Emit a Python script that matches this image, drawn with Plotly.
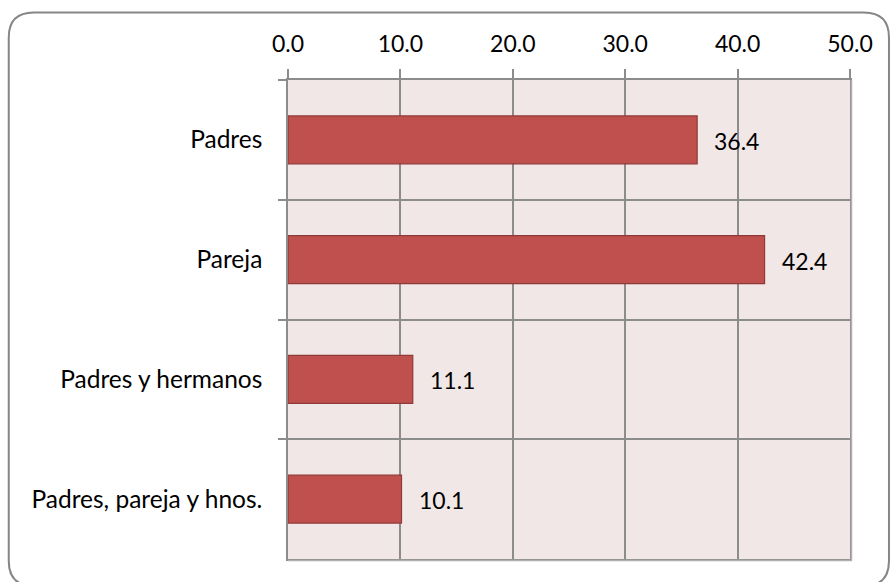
import plotly.graph_objects as go

# Data
categories = ["Padres", "Pareja", "Padres y hermanos", "Padres, pareja y hnos."]
values = [36.4, 42.4, 11.1, 10.1]
tick_vals = [0, 10, 20, 30, 40, 50]

W, H = 890, 582
ML, MR, MT, MB = 288, 39.5, 80, 23
PW, PH = W - ML - MR, H - MT - MB

FONT = "Lato"
GRID = "#8C8C8C"
NUM_SIZE = 23
CAT_SIZE = 24.5

fig = go.Figure(
    go.Bar(
        x=values,
        y=categories,
        orientation="h",
        width=0.4,
        marker=dict(color="#C0504D", line=dict(color="#8E3A38", width=1.2)),
        hoverinfo="skip",
    )
)

# value labels next to each bar
for v, c in zip(values, categories):
    fig.add_annotation(
        x=v, y=c, text=f"{v:.1f}", showarrow=False,
        xanchor="left", xshift=15, yshift=-1,
        font=dict(family=FONT, size=NUM_SIZE, color="#000000"),
    )


def px_to_paper(x, y):
    return (x - ML) / PW, 1 - (y - MT) / PH


# rounded outer frame
x0, y0, x1, y1, r = 8.5, 12.5, 889.5, 586, 25
ax0, ay0 = px_to_paper(x0, y0)
ax1, ay1 = px_to_paper(x1, y1)
rx, ry = r / PW, r / PH
path = (
    f"M {ax0 + rx} {ay0} L {ax1 - rx} {ay0} Q {ax1} {ay0} {ax1} {ay0 - ry} "
    f"L {ax1} {ay1 + ry} Q {ax1} {ay1} {ax1 - rx} {ay1} "
    f"L {ax0 + rx} {ay1} Q {ax0} {ay1} {ax0} {ay1 + ry} "
    f"L {ax0} {ay0 - ry} Q {ax0} {ay0} {ax0 + rx} {ay0} Z"
)
fig.add_shape(type="path", path=path, xref="paper", yref="paper",
              line=dict(color="#868686", width=2), layer="below")

# soft shadow on the right and bottom edges of the plot area
fig.add_shape(type="line", xref="paper", yref="paper",
              x0=1 + 1.5 / PW, x1=1 + 1.5 / PW, y0=1, y1=-1.5 / PH,
              line=dict(color="#B0B0B0", width=1.5))
fig.add_shape(type="line", xref="paper", yref="paper",
              x0=0, x1=1 + 1.5 / PW, y0=-1.5 / PH, y1=-1.5 / PH,
              line=dict(color="#B0B0B0", width=1.5))

fig.update_layout(
    width=W, height=H,
    margin=dict(l=ML, r=MR, t=MT, b=MB, pad=0),
    paper_bgcolor="white",
    plot_bgcolor="#F2E7E7",
    showlegend=False,
    font=dict(family=FONT, size=CAT_SIZE, color="#000000"),
    xaxis=dict(
        side="top", range=[0, 50], tickvals=tick_vals, tickformat=".1f",
        tickfont=dict(size=NUM_SIZE),
        showgrid=True, gridcolor=GRID, gridwidth=1.5,
        ticks="outside", ticklen=9, tickwidth=1.5, tickcolor=GRID,
        showline=True, linecolor=GRID, linewidth=1.5, mirror=True,
        zeroline=False, ticklabelstandoff=8, fixedrange=True,
    ),
    yaxis=dict(
        autorange="reversed", tickson="boundaries",
        tickfont=dict(size=CAT_SIZE),
        showgrid=True, gridcolor=GRID, gridwidth=1.5,
        ticks="outside", ticklen=8, tickwidth=1.5, tickcolor=GRID,
        showline=True, linecolor=GRID, linewidth=1.5, mirror=True,
        ticklabelstandoff=19, fixedrange=True,
    ),
)

fig.write_html("out.html")
